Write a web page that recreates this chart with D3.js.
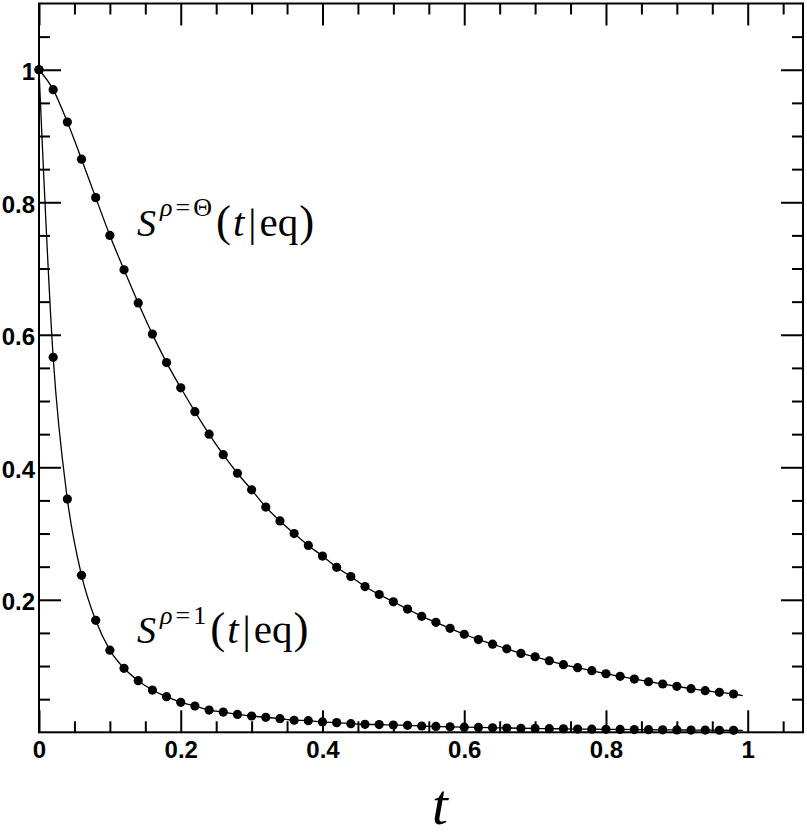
<!DOCTYPE html>
<html lang="en">
<head>
    <meta charset="UTF-8">
    <title>Survival curves</title>
    <script src="https://d3js.org/d3.v7.min.js"></script>
    <style>
        body { margin: 0; background: #fff; }
        .tick-label { font-family: "Liberation Sans", Arial, sans-serif; font-weight: bold; font-size: 24px; }
        .math { font-family: "Liberation Serif", "Times New Roman", serif; }
    </style>
</head>
<body>
    <div id="chart"></div>
    <script>
        // sample times (markers)
        const tValues = [0, 0.02, 0.04, 0.06, 0.08, 0.1, 0.12, 0.14, 0.16, 0.18,
            0.2, 0.22, 0.24, 0.26, 0.28, 0.3, 0.32, 0.34, 0.36, 0.38,
            0.4, 0.42, 0.44, 0.46, 0.48, 0.5, 0.52, 0.54, 0.56, 0.58,
            0.6, 0.62, 0.64, 0.66, 0.68, 0.7, 0.72, 0.74, 0.76, 0.78,
            0.8, 0.82, 0.84, 0.86, 0.88, 0.9, 0.92, 0.94, 0.96, 0.98];

        // S^{rho=Theta}(t|eq)
        const thetaValues = [1, 0.970, 0.921, 0.865, 0.807, 0.750, 0.698, 0.648, 0.601, 0.558,
            0.520, 0.484, 0.450, 0.419, 0.391, 0.366, 0.340, 0.319, 0.300, 0.282,
            0.266, 0.249, 0.235, 0.220, 0.208, 0.197, 0.186, 0.175, 0.166, 0.157,
            0.148, 0.140, 0.133, 0.126, 0.119, 0.114, 0.108, 0.102, 0.0975, 0.093,
            0.0884, 0.0845, 0.0804, 0.0763, 0.0729, 0.0694, 0.0658, 0.0628, 0.0603, 0.0578];

        // S^{rho=1}(t|eq)
        const oneValues = [1, 0.566, 0.352, 0.237, 0.169, 0.124, 0.0966, 0.0779, 0.0638, 0.0537,
            0.0453, 0.0397, 0.0336, 0.0306, 0.027, 0.0246, 0.0226, 0.0206, 0.0182, 0.0176,
            0.0156, 0.0146, 0.013, 0.012, 0.0116, 0.011, 0.0106, 0.0095, 0.0089, 0.0083,
            0.0078, 0.0073, 0.0069, 0.0065, 0.0061, 0.0058, 0.0055, 0.0052, 0.0049, 0.0047,
            0.0045, 0.0043, 0.0041, 0.0039, 0.0037, 0.0036, 0.0034, 0.0033, 0.0031, 0.003];

        // where the solid lines stop
        const lineEndT = 0.993;
        const thetaEnd = 0.0552;
        const oneEnd = 0.0029;

        const xMajorTicks = [0, 0.2, 0.4, 0.6, 0.8, 1];
        const xMinorTicks = [0.05, 0.1, 0.15, 0.25, 0.3, 0.35, 0.45, 0.5, 0.55, 0.65, 0.7, 0.75, 0.85, 0.9, 0.95, 1.05];
        const yMajorTicks = [0.2, 0.4, 0.6, 0.8, 1];
        const yMinorTicks = [0.05, 0.1, 0.15, 0.25, 0.3, 0.35, 0.45, 0.5, 0.55, 0.65, 0.7, 0.75, 0.85, 0.9, 0.95, 1.05];

        const margin = { top: 3.5, right: 4, bottom: 104.7, left: 39 };
        const W = 807, H = 837;
        const width = W - margin.left - margin.right;
        const height = H - margin.top - margin.bottom;

        const svg = d3.select('#chart').append('svg')
            .attr('width', W)
            .attr('height', H);

        const g = svg.append('g')
            .attr('transform', `translate(${margin.left}, ${margin.top})`);

        const x = d3.scaleLinear().domain([0, 1.078]).range([0, width]);
        const y = d3.scaleLinear().domain([0, 1.1]).range([height, 0]);

        const fmt = d3.format('~g');

        function styleTicks(sel) {
            sel.select('.domain').remove();
            sel.selectAll('.tick line').attr('stroke', '#000').attr('stroke-width', 2);
        }

        // bottom axis
        g.append('g')
            .attr('transform', `translate(0, ${height})`)
            .call(d3.axisBottom(x).tickValues(xMajorTicks).tickSize(-22).tickPadding(9).tickFormat(fmt))
            .call(styleTicks)
            .selectAll('text').attr('class', 'tick-label').attr('fill', '#000');
        g.append('g')
            .attr('transform', `translate(0, ${height})`)
            .call(d3.axisBottom(x).tickValues(xMinorTicks).tickSize(-11).tickFormat(''))
            .call(styleTicks);

        // top axis
        g.append('g')
            .call(d3.axisTop(x).tickValues(xMajorTicks).tickSize(-22).tickFormat(''))
            .call(styleTicks);
        g.append('g')
            .call(d3.axisTop(x).tickValues(xMinorTicks).tickSize(-11).tickFormat(''))
            .call(styleTicks);

        // left axis
        g.append('g')
            .call(d3.axisLeft(y).tickValues(yMajorTicks).tickSize(-22).tickPadding(4).tickFormat(fmt))
            .call(styleTicks)
            .selectAll('text').attr('class', 'tick-label').attr('fill', '#000').attr('dy', '0.42em');
        g.append('g')
            .call(d3.axisLeft(y).tickValues(yMinorTicks).tickSize(-11).tickFormat(''))
            .call(styleTicks);

        // right axis
        g.append('g')
            .attr('transform', `translate(${width}, 0)`)
            .call(d3.axisRight(y).tickValues(yMajorTicks).tickSize(-22).tickFormat(''))
            .call(styleTicks);
        g.append('g')
            .attr('transform', `translate(${width}, 0)`)
            .call(d3.axisRight(y).tickValues(yMinorTicks).tickSize(-11).tickFormat(''))
            .call(styleTicks);

        // frame
        g.append('rect')
            .attr('width', width)
            .attr('height', height)
            .attr('fill', 'none')
            .attr('stroke', '#000')
            .attr('stroke-width', 2);

        const series = [
            { values: thetaValues, end: thetaEnd },
            { values: oneValues, end: oneEnd }
        ];

        const line = d3.line()
            .x(d => x(d[0]))
            .y(d => y(d[1]))
            .curve(d3.curveMonotoneX);

        series.forEach(s => {
            const pts = tValues.map((t, i) => [t, s.values[i]]);
            g.append('path')
                .datum(pts.concat([[lineEndT, s.end]]))
                .attr('fill', 'none')
                .attr('stroke', '#000')
                .attr('stroke-width', 1.3)
                .attr('d', line);

            g.append('g')
                .selectAll('circle')
                .data(pts)
                .join('circle')
                .attr('cx', d => x(d[0]))
                .attr('cy', d => y(d[1]))
                .attr('r', 4.6)
                .attr('fill', '#000');
        });

        // curve labels, S^{rho=...}(t|eq)
        function mathLabel(px, py, sup, rise) {
            const t = svg.append('text')
                .attr('class', 'math')
                .attr('x', px)
                .attr('y', py)
                .attr('font-size', 41)
                .attr('fill', '#000');
            t.append('tspan').attr('font-style', 'italic').attr('font-size', 38).text('S');
            t.append('tspan').attr('font-size', 26).attr('font-style', 'italic')
                .attr('dy', -rise).attr('dx', 4).text('ρ');
            t.append('tspan').attr('font-size', 26).attr('dx', 3).text('=');
            t.append('tspan').attr('font-size', 26).attr('dx', 3).text(sup);
            t.append('tspan').attr('font-size', 45).attr('dy', rise).attr('dx', 4).text('(');
            t.append('tspan').attr('font-style', 'italic').attr('dx', 2).text('t');
            t.append('tspan').attr('dx', 4).text('|');
            t.append('tspan').attr('dx', 3).text('eq');
            t.append('tspan').attr('font-size', 45).attr('dx', 1).text(')');
        }
        mathLabel(137, 236, 'Θ', 20);
        mathLabel(137, 643, '1', 19);

        // x axis title
        svg.append('text')
            .attr('class', 'math')
            .attr('x', 440)
            .attr('y', 824)
            .attr('text-anchor', 'middle')
            .attr('font-size', 57)
            .attr('font-style', 'italic')
            .text('t');
    </script>
</body>
</html>
